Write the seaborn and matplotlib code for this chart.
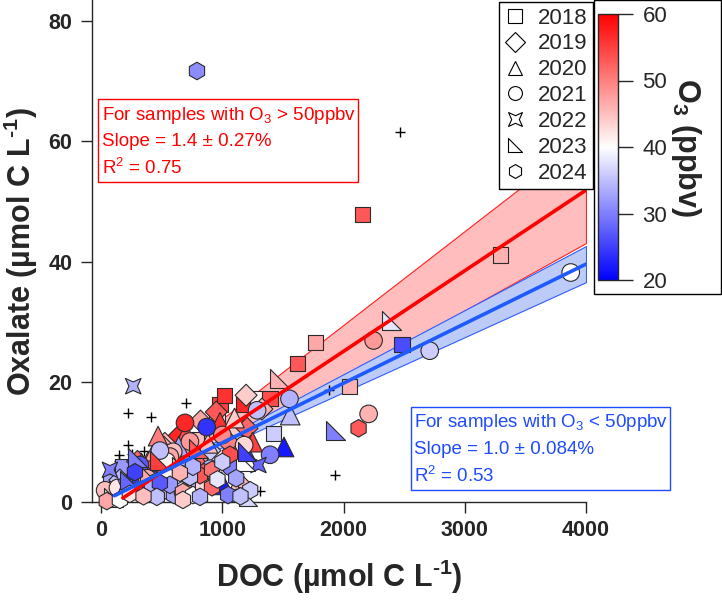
import numpy as np
import matplotlib
matplotlib.use("Agg")
import matplotlib.pyplot as plt
import seaborn as sns
from matplotlib.path import Path
from matplotlib.colors import LinearSegmentedColormap, Normalize
from matplotlib.cm import ScalarMappable
from matplotlib.lines import Line2D
from matplotlib.patches import Rectangle

sns.set_style("ticks")
plt.rcParams["font.family"] = ["Liberation Sans", "DejaVu Sans"]

# --- data: DOC (x), oxalate (y), O3 (colour) per year ---
doc_2018 = [2154, 3295, 2482, 1766, 1620, 2050, 981, 1174, 1287, 1394, 1419, 956, 790, 1106,
            75, 60, 130, 540, 820, 340, 180, 700, 1020]
ox_2018 = [47.8, 41.1, 26.2, 26.6, 23.1, 19.3, 16.2, 16.2, 17.3, 17.3, 11.4, 13.4, 10.4, 12.4,
           3.4, 1.6, 2.4, 9.8, 7.6, 5.2, 5.9, 8.8, 17.8]
o3_2018 = [53, 46, 26, 47, 53, 46, 55, 57, 41, 54, 36, 42, 45, 44, 33, 27, 47, 52, 46, 36, 32,
           34, 56]

doc_2019 = [1196, 1327, 1204, 635, 526, 516, 897, 403, 155, 733, 1050, 300, 650, 90, 820, 950, 580]
ox_2019 = [17.8, 15.5, 12.3, 10.9, 9.8, 9.2, 8.6, 5.7, 3.7, 7.9, 10.0, 6.8, 4.6, 1.2, 13.5, 15.0, 7.2]
o3_2019 = [44, 46, 52, 57, 45, 46, 36, 28, 35, 48, 50, 52, 38, 44, 47, 53, 40]

doc_2020 = [981, 1560, 1509, 997, 1146, 882, 1188, 388, 334, 265, 995, 568, 816, 700, 1100, 150,
            440, 640, 1250, 470]
ox_2020 = [13.3, 14.5, 9.2, 2.9, 8.7, 9.8, 8.7, 6.8, 6.5, 4.8, 3.4, 5.4, 6.7, 11.5, 14.0, 2.0,
           8.5, 9.3, 10.0, 11.0]
o3_2020 = [56, 35, 22, 23, 50, 45, 25, 52, 55, 25, 22, 30, 52, 54, 44, 24, 47, 33, 55, 50]

doc_2021 = [692, 871, 1287, 1554, 1394, 1072, 2207, 2248, 2711, 3874, 33, 595, 733, 568, 540,
            485, 320, 139, 900, 1000, 760, 380, 1180]
ox_2021 = [13.2, 12.5, 15.3, 17.2, 7.9, 5.9, 14.7, 26.9, 25.2, 38.2, 2.0, 8.4, 10.1, 7.6, 6.8,
           8.6, 6.2, 2.4, 5.6, 11.2, 4.2, 4.0, 9.5]
o3_2021 = [57, 24, 35, 34, 30, 30, 46, 48, 36, 40, 45, 45, 48, 47, 41, 35, 27, 42, 34, 49, 37,
           46, 43]

doc_2022 = [265, 1298, 1119, 73, 403, 200, 620]
ox_2022 = [19.3, 6.2, 2.9, 5.4, 3.7, 2.6, 3.2]
o3_2022 = [34, 28, 45, 30, 35, 33, 40]

doc_2023 = [2392, 1931, 1188, 1204, 1212, 1204, 1471, 400, 485, 237, 800, 100, 300, 660]
ox_2023 = [30.2, 12.0, 6.8, 3.7, 0.9, 8.4, 20.6, 4.5, 7.0, 3.7, 8.9, 0.8, 7.5, 6.0]
o3_2023 = [38, 30, 40, 46, 37, 25, 46, 47, 55, 28, 53, 38, 30, 44]

doc_2024 = [791, 2124, 47, 279, 419, 502, 601, 667, 724, 749, 807, 849, 560, 568, 675, 758,
            841, 915, 816, 915, 733, 758, 650, 485, 460, 816, 675, 155, 237, 1063, 1000, 1114,
            1230, 1048, 350, 1150, 960]
ox_2024 = [71.7, 12.3, 0.2, 5.0, 2.5, 1.7, 1.2, 2.0, 1.5, 4.2, 3.4, 5.0, 4.2, 2.9, 1.7, 1.2,
           2.9, 2.5, 4.5, 5.4, 4.2, 5.9, 4.9, 3.2, 0.9, 0.9, 0.4, 0.4, 1.4, 7.9, 6.7, 4.0,
           2.0, 1.2, 1.0, 1.0, 3.8]
o3_2024 = [31, 53, 47, 25, 34, 37, 33, 40, 46, 47, 34, 52, 41, 32, 47, 40,
           43, 52, 53, 51, 35, 34, 46, 27, 35, 34, 44, 40, 42, 54, 36, 33,
           36, 30, 45, 35, 38]

# samples without O3
doc_noo3 = [223, 408, 700, 222, 355, 149, 251, 149, 140, 1312, 1931, 1876, 2469]
ox_noo3 = [14.9, 14.2, 16.5, 9.5, 8.6, 7.9, 8.1, 6.8, 4.9, 1.9, 4.5, 18.7, 61.6]

# fits (slope per µmol, intercept, slope uncertainty of the band)
hi_slope, hi_icpt, hi_dslope = 0.0134, -1.7, 0.0022
lo_slope, lo_icpt, lo_dslope = 0.0099, 0.0, 0.00075
hi_range = [180, 4000]
lo_range = [110, 4000]

years = ["2018", "2019", "2020", "2021", "2022", "2023", "2024"]

star = Path([(1, 1), (0, 0.55), (-1, 1), (-0.55, 0), (-1, -1), (0, -0.55), (1, -1), (0.55, 0), (1, 1)],
            [Path.MOVETO] + [Path.LINETO] * 7 + [Path.CLOSEPOLY])
rtri = Path([(-1, 1), (-1, -1), (1, -1), (-1, 1)],
            [Path.MOVETO, Path.LINETO, Path.LINETO, Path.CLOSEPOLY])
markers = {"2018": "s", "2019": "D", "2020": "^", "2021": "o", "2022": star, "2023": rtri, "2024": "h"}
sizes = {"2018": 120, "2019": 125, "2020": 200, "2021": 160, "2022": 125, "2023": 185, "2024": 160}
series = {
    "2018": (doc_2018, ox_2018, o3_2018),
    "2019": (doc_2019, ox_2019, o3_2019),
    "2020": (doc_2020, ox_2020, o3_2020),
    "2021": (doc_2021, ox_2021, o3_2021),
    "2022": (doc_2022, ox_2022, o3_2022),
    "2023": (doc_2023, ox_2023, o3_2023),
    "2024": (doc_2024, ox_2024, o3_2024),
}

cmap = LinearSegmentedColormap.from_list("bwr_o3", ["#0000ff", "#ffffff", "#ff0000"])
norm = Normalize(20, 60)

fig = plt.figure(figsize=(7.22, 6.10), dpi=100)
W, H = 722, 610
ax = fig.add_axes([92 / W, 1 - 502.3 / H, (586 - 92) / W, 502.3 / H])

# confidence bands
xr = np.array(hi_range, dtype=float)
ax.fill_between(xr, hi_icpt + (hi_slope - hi_dslope) * xr, hi_icpt + (hi_slope + hi_dslope) * xr,
                facecolor="#ffbdbd", edgecolor="#ff2020", linewidth=0.8, zorder=1)
xb = np.array(lo_range, dtype=float)
ax.fill_between(xb, lo_icpt + (lo_slope - lo_dslope) * xb, lo_icpt + (lo_slope + lo_dslope) * xb,
                facecolor="#bccbf7", edgecolor="#2f5cff", linewidth=0.8, zorder=1)

# samples
sns.scatterplot(x=doc_noo3, y=ox_noo3, marker="+", color="black", s=55, linewidth=1,
                ax=ax, legend=False, zorder=2)
for yr in years:
    xs, ys, cs = series[yr]
    sns.scatterplot(x=xs, y=ys, hue=cs, palette=cmap, hue_norm=(20, 60), marker=markers[yr],
                    s=sizes[yr], edgecolor="#2a2a2a", linewidth=0.8, ax=ax, legend=False,
                    zorder=3, clip_on=False)

# fit lines
sns.lineplot(x=xr, y=hi_icpt + hi_slope * xr, color="#ff0000", linewidth=2.6, ax=ax, zorder=4)
sns.lineplot(x=xb, y=lo_icpt + lo_slope * xb, color="#1e5aff", linewidth=2.6, ax=ax, zorder=4)

ax.set_xlim(-75, 4000)
ax.set_ylim(0, 83.5)
ax.set_xticks([0, 1000, 2000, 3000, 4000])
ax.set_yticks([0, 20, 40, 60, 80])
sns.despine(ax=ax)
for s in ["left", "bottom"]:
    ax.spines[s].set_linewidth(1.0)
ax.tick_params(direction="out", length=8, width=1, labelsize=15.5)
ax.tick_params(axis="y", pad=6)
ax.tick_params(axis="x", pad=5)
for lab in ax.get_xticklabels() + ax.get_yticklabels():
    lab.set_fontweight("bold")
ax.set_xlabel("DOC (µmol C L$\\mathregular{^{\u20101}}$)", fontsize=22,
              fontweight="bold", labelpad=12)
ax.set_ylabel("Oxalate (µmol C L$\\mathregular{^{\u20101}}$)", fontsize=22, fontweight="bold",
              labelpad=6)

# fit annotation boxes
fig.patches.append(Rectangle((98 / W, 1 - 182 / H), (358 - 98) / W, (182 - 99) / H,
                             transform=fig.transFigure, fill=False, edgecolor="#ff0000", lw=1))
red_lines = [r"For samples with O$\mathregular{_3}$ > 50ppbv", "Slope = 1.4 ± 0.27%",
             r"R$\mathregular{^2}$ = 0.75"]
for txt, yb in zip(red_lines, [119.5, 146, 173.5]):
    fig.text(102 / W, 1 - yb / H, txt, color="#ff0000", fontsize=13.5, va="baseline")

fig.patches.append(Rectangle((411 / W, 1 - 489.5 / H), (670 - 411) / W, (489.5 - 406.5) / H,
                             transform=fig.transFigure, fill=False, edgecolor="#1f4bff", lw=1))
blue_lines = [r"For samples with O$\mathregular{_3}$ < 50ppbv", "Slope = 1.0 ± 0.084%",
              r"R$\mathregular{^2}$ = 0.53"]
for txt, yb in zip(blue_lines, [427, 453.5, 481.5]):
    fig.text(414 / W, 1 - yb / H, txt, color="#1f4bff", fontsize=13.5, va="baseline")

# year legend
handles = [Line2D([], [], linestyle="none", marker=markers[yr], markersize=10,
                  markerfacecolor="white", markeredgecolor="black", markeredgewidth=0.8, label=yr)
           for yr in years]
leg = fig.legend(handles=handles, loc="upper left", bbox_to_anchor=(499 / W, 1 - 2 / H),
                 frameon=True, fancybox=False, edgecolor="black", framealpha=1, fontsize=16,
                 handlelength=0.9, handletextpad=0.6, labelspacing=0.22, borderpad=0.25,
                 borderaxespad=0)
leg.get_frame().set_linewidth(1.0)

# colour bar with its frame
fig.patches.append(Rectangle((594 / W, 1 - 294 / H), (721 - 594) / W, 294 / H,
                             transform=fig.transFigure, fill=False, edgecolor="black", lw=1))
cax = fig.add_axes([598 / W, 1 - 280 / H, 19.5 / W, 266 / H])
cb = fig.colorbar(ScalarMappable(norm=norm, cmap=cmap), cax=cax, ticks=[20, 30, 40, 50, 60])
cb.outline.set_linewidth(1.0)
cb.ax.tick_params(length=11, width=1, labelsize=16, pad=7, direction="out")
cb.set_label(r"O$\mathregular{_3}$ (ppbv)", fontsize=22, fontweight="bold", rotation=-90, labelpad=26)

fig.savefig("out.png", dpi=100)
